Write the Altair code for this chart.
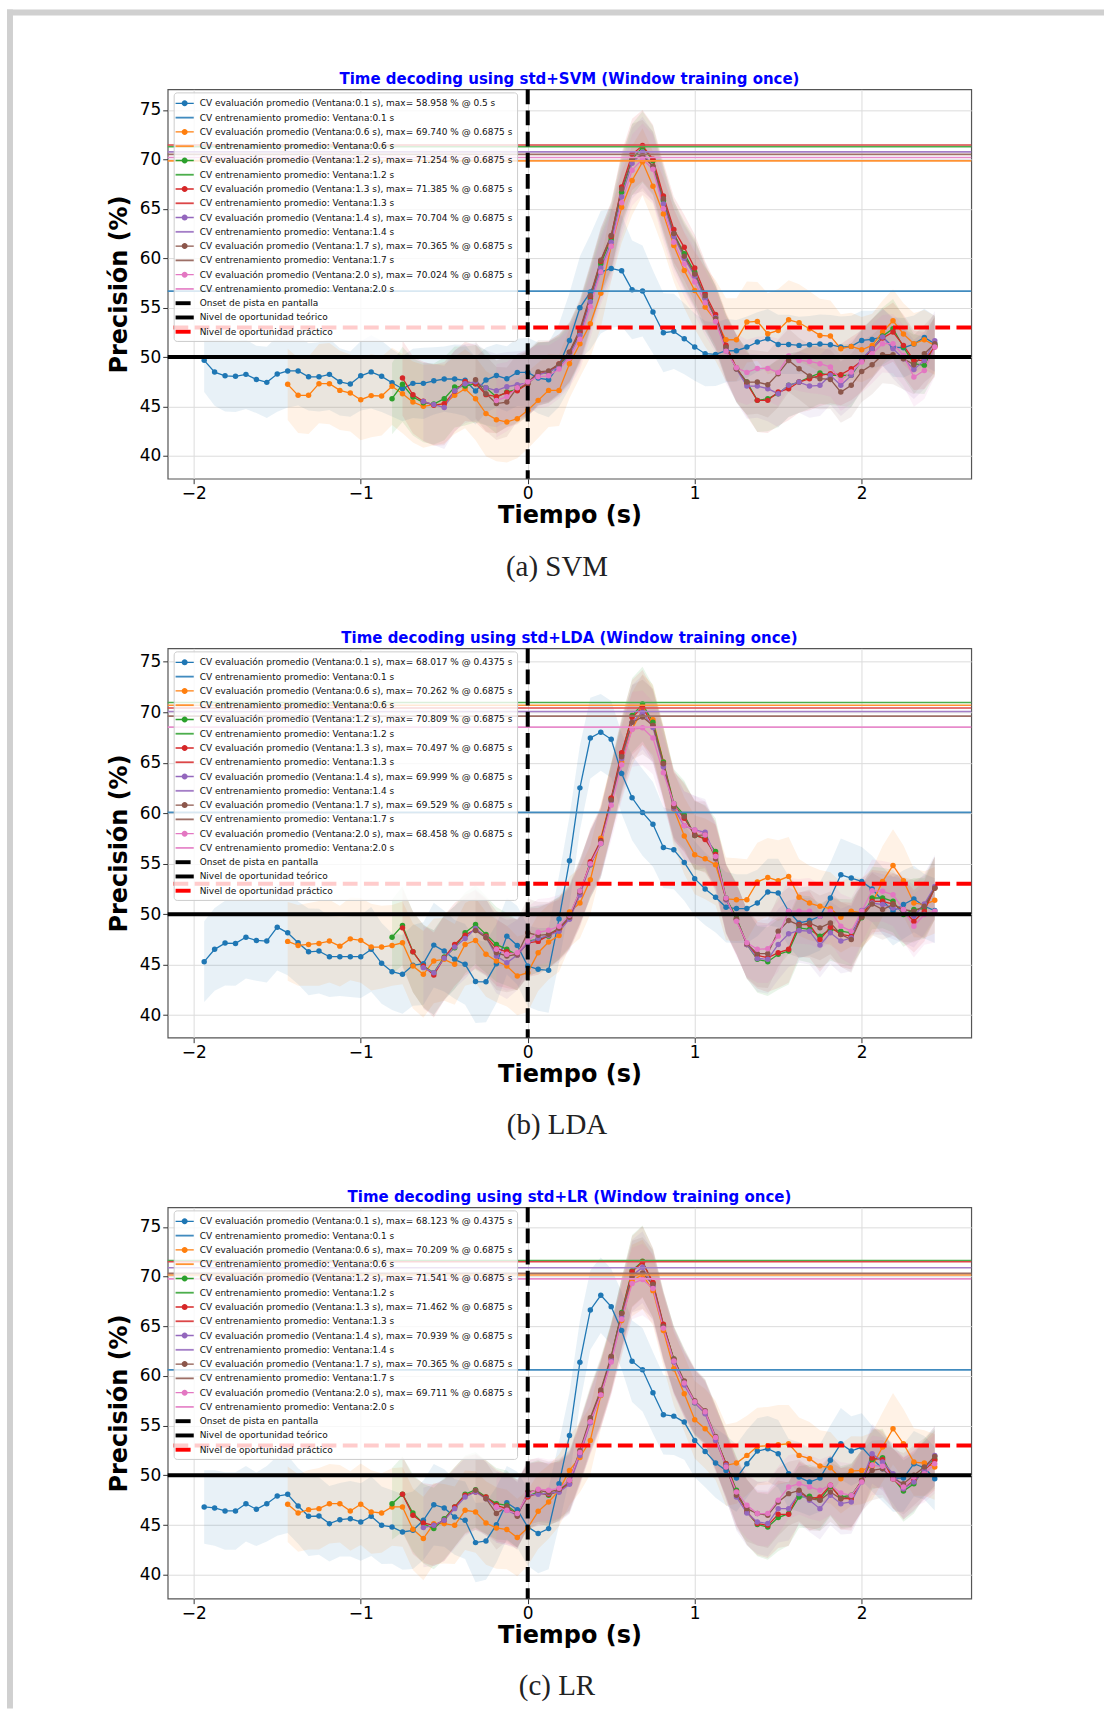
import altair as alt
import pandas as pd

# ---------------- shared grid / styling data ----------------
T0, DT, N = -1.9375, 0.0625, 71
TIME = [round(T0 + DT * i, 4) for i in range(N)]
WINDOWS = ["0.1", "0.6", "1.2", "1.3", "1.4", "1.7", "2.0"]
COLORS = ["#1f77b4", "#ff7f0e", "#2ca02c", "#d62728", "#9467bd", "#8c564b", "#e377c2"]
START = [0, 8, 18, 19, 21, 26, 28]
X_TICKS = [-2, -1, 0, 1, 2]
Y_TICKS = [40, 45, 50, 55, 60, 65, 70, 75]
CHANCE_THEO = 50.0
CHANCE_PRAC = [53.0, 53.0, 53.0]

# ---------------- SVM ----------------
SVM_W01 = [49.67, 48.48, 48.10, 48.05, 48.25, 47.74, 47.44, 48.28, 48.60, 48.60, 48.00, 48.00, 48.25, 47.50, 47.27, 48.10,
           48.50, 48.05, 47.40, 46.80, 47.34, 47.34, 47.60, 47.78, 47.78, 47.65, 46.57, 47.67, 48.13, 47.80, 48.45, 48.45,
           47.88, 47.71, 49.16, 51.68, 54.98, 56.57, 58.59, 58.958, 58.72, 56.80, 56.67, 54.55, 52.46, 52.60, 51.85, 51.01,
           50.34, 50.27, 50.64, 50.64, 51.01, 51.52, 51.85, 51.28, 51.28, 51.18, 51.25, 51.31, 51.25, 51.01, 51.08, 51.68,
           51.78, 52.02, 51.01, 50.94, 51.31, 51.99, 51.35]
SVM_W06 = [47.24, 46.13, 46.13, 47.31, 47.31, 46.63, 46.36, 45.69, 46.10, 46.06, 47.04, 46.30, 45.45, 45.02, 45.19, 45.25,
           46.13, 46.80, 45.79, 44.28, 43.67, 43.43, 43.77, 44.62,
           45.62, 46.63, 46.63, 49.33, 51.35, 53.37, 56.46, 61.28, 65.15, 67.85, 69.74, 67.27, 64.48, 61.28, 58.75, 56.73,
           55.05, 53.70, 51.75, 51.75, 53.54, 53.60, 52.36, 52.69, 53.77, 53.47, 52.86, 52.19, 52.12, 50.84, 51.08, 50.74,
           51.18, 52.53, 53.67, 52.33, 51.35, 51.75, 51.18]
SVM_W12 = [45.79, 47.24, 45.96, 45.39, 45.25, 45.79, 46.97, 47.07, 47.31, 46.90, 45.96, 46.46, 46.73, 47.30,
           48.32, 48.42, 49.16, 50.34, 52.46, 55.89, 59.43, 61.95, 66.67, 69.97, 71.254, 69.86, 65.83, 62.46, 60.44, 58.59,
           55.96, 54.04, 51.01, 48.82, 47.47, 45.62, 45.79, 46.30, 47.14, 47.47, 47.98, 48.38, 48.15, 48.15, 48.15, 49.66,
           50.84, 52.12, 52.86, 51.01, 49.33, 49.16, 51.18]
SVM_W13 = [47.88, 46.19, 45.52, 45.12, 45.29, 46.53, 47.54, 47.31, 46.20, 46.00, 46.40, 46.60, 47.30,
           48.30, 48.50, 49.30, 50.50, 52.60, 56.10, 59.70, 62.20, 67.20, 70.50, 71.385, 70.00, 66.30, 62.90, 61.10, 59.00,
           56.40, 54.30, 51.20, 48.90, 47.30, 45.62, 45.62, 46.46, 46.80, 47.47, 47.81, 48.15, 48.32, 48.22, 48.82, 49.60,
           50.84, 51.92, 52.53, 51.18, 49.66, 49.66, 51.01]
SVM_W14 = [45.50, 45.20, 44.90, 46.60, 47.30, 47.50, 46.90, 46.60, 47.00, 47.20, 47.40,
           48.20, 48.50, 49.00, 50.20, 52.20, 55.60, 59.00, 61.60, 66.20, 69.60, 70.704, 69.20, 65.50, 62.20, 60.00, 58.20,
           55.90, 54.00, 50.90, 48.80, 47.07, 47.07, 46.80, 46.30, 47.14, 47.47, 47.07, 47.14, 48.15, 47.14, 48.15, 49.83,
           50.84, 52.02, 50.84, 49.83, 48.75, 49.66, 51.65]
SVM_W17 = [47.70, 46.30, 45.30, 45.45, 46.90, 47.40,
           48.50, 48.60, 49.30, 50.50, 52.80, 56.20, 59.80, 62.30, 67.00, 70.00, 70.365, 69.30, 66.00, 62.50, 60.20, 58.40,
           56.20, 53.90, 51.00, 48.80, 47.47, 47.47, 47.20, 48.32, 49.66, 48.82, 48.08, 47.81, 47.74, 46.46, 47.14, 48.55,
           49.23, 50.24, 50.24, 49.83, 49.23, 50.34, 51.35]
SVM_W20 = [45.60, 46.00, 46.90, 47.50,
           48.00, 48.10, 48.80, 49.90, 51.80, 55.10, 58.60, 61.20, 65.60, 68.90, 70.024, 69.00, 65.00, 61.60, 59.40, 57.60,
           55.50, 53.60, 50.60, 48.92, 48.45, 48.85, 48.85, 48.45, 50.10, 49.66, 49.56, 49.33, 49.00, 47.64, 48.48, 49.49,
           50.34, 51.35, 51.35, 50.17, 47.98, 48.65, 51.01]
SVM_SD_BLUE = [3.2, 3.4, 3.6, 3.6, 3.5, 3.4, 3.6, 3.8, 3.7, 3.5, 3.4, 3.5, 3.6, 3.4, 3.3, 3.5, 3.7, 3.6, 3.4, 3.3, 3.5, 3.6,
               3.4, 3.3, 3.5, 3.6, 3.4, 3.3, 3.2, 3.3, 3.4, 3.5, 3.6, 3.8, 4.2, 4.8, 5.2, 5.8, 6.2, 6.0, 5.6, 5.0, 4.6, 4.2,
               4.0, 3.8, 3.6, 3.4, 3.3, 3.2, 3.2, 3.1, 3.1, 3.0, 3.0, 3.0, 3.0, 2.9, 2.9, 3.0, 3.0, 3.1, 3.1, 3.0, 2.9, 2.9,
               3.0, 3.0, 2.9, 2.9, 2.8]
SVM_SD_ORANGE = [None] * 8 + [3.6, 3.8, 3.9, 4.0, 4.1, 4.0, 3.9, 4.1, 4.2, 4.0, 3.9, 4.0, 4.1, 4.2, 4.1, 4.0, 3.9, 4.0, 4.2,
                              4.3, 4.2, 4.1, 4.0, 3.9, 3.8, 3.7, 3.6, 3.5, 3.4, 3.4, 3.5, 3.6, 3.6, 3.5, 3.4, 3.5, 3.6, 3.7,
                              3.8, 3.9, 4.0, 4.1, 4.2, 4.2, 4.1, 4.0, 4.1, 4.2, 4.0, 3.9, 3.8, 3.7, 3.6, 3.5, 3.4, 3.3, 3.2,
                              3.2, 3.2, 3.1, 3.1, 3.0, 3.0]
SVM_SD_LONG = [None] * 18 + [3.6, 3.8, 3.9, 4.0, 4.1, 4.2, 4.1, 4.0, 3.9, 3.8, 3.7, 3.5, 3.4, 3.3, 3.2, 3.1, 3.0, 3.0, 3.1,
                             3.2, 3.3, 3.4, 3.5, 3.6, 3.6, 3.5, 3.4, 3.3, 3.3, 3.4, 3.3, 3.2, 3.3, 3.4, 3.3, 3.2, 3.3, 3.4,
                             3.2, 3.1, 3.2, 3.1, 3.0, 3.1, 3.2, 3.1, 3.0, 2.9, 3.0, 3.1, 3.0, 2.9, 3.0]
SVM_TRAIN = [56.67, 69.84, 71.28, 71.45, 70.75, 70.50, 70.18]
SVM_MAX = ["58.958", "69.740", "71.254", "71.385", "70.704", "70.365", "70.024"]
SVM_AT = ["0.5", "0.6875", "0.6875", "0.6875", "0.6875", "0.6875", "0.6875"]

# ---------------- LDA ----------------
LDA_W01 = [45.29, 46.51, 47.13, 47.10, 47.72, 47.39, 47.33, 48.71, 48.15, 47.16, 46.27, 46.34, 45.78, 45.78, 45.78, 45.78,
           46.51, 45.13, 44.30, 44.04, 44.93, 45.09, 46.93, 46.34, 45.52, 45.03, 43.32, 43.29, 45.09, 47.82, 46.90, 44.86,
           44.53, 44.43, 49.53, 55.28, 62.51, 67.45, 68.017, 67.32, 63.93, 61.53, 60.08, 58.90, 56.60, 56.37, 55.12, 53.51,
           52.49, 51.67, 50.68, 50.55, 50.55, 51.10, 52.19, 52.09, 50.29, 49.13, 49.36, 49.79, 51.60, 53.90, 53.57, 53.24,
           52.49, 51.34, 50.29, 50.95, 51.50, 50.78, 50.35]
LDA_W06 = [47.30, 46.90, 47.00, 47.10, 47.33, 46.83, 47.55, 47.40, 46.74, 46.74, 46.90, 47.16, 44.86, 44.04, 45.36, 45.52,
           45.03, 47.00, 47.39, 46.02, 45.36, 44.86, 43.88, 44.20,
           46.18, 47.23, 47.89, 50.22, 51.10, 53.41, 57.52, 61.46, 65.08, 68.36, 70.262, 69.25, 65.08, 60.41, 57.75, 55.88,
           55.48, 54.89, 51.50, 51.43, 51.43, 53.18, 53.64, 53.31, 53.74, 51.67, 51.10, 50.78, 50.55, 49.69, 50.29, 50.13,
           51.10, 53.24, 54.82, 53.31, 51.10, 50.95, 51.37]
LDA_W12 = [47.72, 48.87, 46.27, 44.86, 44.20, 45.75, 46.67, 48.15, 48.97, 47.99, 47.00, 46.51, 45.95, 47.33,
           47.49, 47.82, 48.64, 49.80, 52.26, 54.90, 57.00, 61.40, 65.74, 69.68, 70.809, 69.02, 65.08, 60.97, 59.82, 57.78,
           57.52, 56.20, 51.60, 49.63, 47.00, 45.52, 45.29, 46.02, 46.34, 48.64, 48.48, 47.82, 48.48, 48.31, 48.15, 49.63,
           51.60, 51.60, 51.27, 49.96, 50.45, 50.55, 52.58]
LDA_W13 = [48.64, 46.27, 44.86, 43.97, 45.69, 47.00, 47.92, 48.48, 47.82, 46.60, 46.27, 45.95, 47.16,
           47.30, 47.90, 48.50, 49.60, 52.00, 55.20, 57.30, 61.50, 66.00, 69.50, 70.497, 68.70, 64.91, 60.80, 59.50, 57.90,
           57.40, 55.90, 51.50, 49.50, 47.00, 45.92, 45.68, 46.18, 46.51, 48.97, 48.97, 47.49, 48.71, 47.99, 47.82, 49.79,
           51.27, 51.27, 51.00, 50.35, 49.30, 50.29, 52.58]
LDA_W14 = [44.70, 44.20, 45.62, 46.74, 47.59, 48.58, 47.72, 45.85, 45.19, 45.95, 47.16,
           47.60, 47.90, 48.30, 49.50, 51.90, 54.90, 57.00, 61.20, 65.40, 69.00, 69.999, 68.50, 64.60, 60.50, 58.77, 58.34,
           58.11, 55.71, 51.40, 49.50, 47.00, 45.61, 45.52, 47.00, 48.05, 48.38, 48.31, 46.93, 48.15, 47.33, 47.65, 50.35,
           51.10, 50.95, 50.61, 50.35, 49.79, 51.00, 52.75]
LDA_W17 = [48.38, 47.66, 46.18, 45.85, 46.02, 48.15,
           47.90, 48.00, 48.60, 49.70, 52.20, 55.00, 57.20, 61.30, 65.60, 69.00, 69.529, 68.70, 64.90, 60.64, 59.66, 57.78,
           57.85, 55.48, 51.50, 49.50, 47.06, 46.08, 46.08, 48.31, 49.36, 48.91, 49.13, 48.64, 49.13, 47.99, 47.49, 49.69,
           51.00, 50.45, 50.95, 50.45, 50.29, 50.78, 52.58]
LDA_W20 = [46.51, 46.02, 46.18, 47.33,
           48.20, 48.40, 48.80, 49.90, 52.30, 55.00, 57.00, 60.80, 64.80, 68.30, 68.458, 67.45, 64.00, 60.97, 58.77, 58.34,
           57.85, 55.71, 51.60, 49.30, 47.16, 46.51, 46.57, 47.82, 50.29, 50.29, 50.29, 49.79, 50.29, 48.81, 48.31, 50.29,
           52.32, 52.26, 51.93, 50.45, 48.81, 49.96, 50.29]
LDA_SD_BLUE = [4.0, 4.1, 4.2, 4.2, 4.1, 4.0, 4.1, 4.3, 4.2, 4.1, 4.3, 4.2, 4.0, 3.9, 4.0, 4.1, 4.2, 4.0, 3.8, 3.9, 4.0, 4.1,
               4.2, 4.0, 3.9, 4.0, 4.1, 4.0, 3.9, 3.8, 3.9, 4.0, 4.1, 4.2, 4.3, 4.4, 4.2, 4.0, 3.8, 3.8, 4.0, 4.2, 4.3, 4.2,
               4.0, 3.9, 3.8, 3.7, 3.6, 3.5, 3.5, 3.4, 3.4, 3.3, 3.3, 3.4, 3.5, 3.5, 3.4, 3.4, 3.5, 3.6, 3.5, 3.4, 3.3, 3.3,
               3.4, 3.4, 3.3, 3.2, 3.2]
LDA_SD_ORANGE = [None] * 8 + [3.9, 4.0, 4.1, 4.2, 4.1, 4.0, 4.1, 4.2, 4.3, 4.1, 4.0, 4.1, 4.2, 4.3, 4.2, 4.1, 4.0, 4.1, 4.2,
                              4.2, 4.1, 4.0, 3.9, 3.9, 3.8, 3.7, 3.6, 3.5, 3.5, 3.4, 3.4, 3.5, 3.6, 3.6, 3.5, 3.5, 3.6, 3.7,
                              3.8, 3.9, 4.0, 4.0, 4.1, 4.1, 4.0, 3.9, 3.9, 4.0, 3.9, 3.8, 3.7, 3.6, 3.6, 3.5, 3.5, 3.4, 3.4,
                              3.5, 3.6, 3.5, 3.4, 3.3, 3.3]
LDA_SD_LONG = [None] * 18 + [3.7, 3.9, 4.0, 4.1, 4.2, 4.2, 4.1, 4.0, 3.9, 3.8, 3.7, 3.6, 3.5, 3.4, 3.3, 3.2, 3.1, 3.1, 3.2,
                             3.3, 3.4, 3.5, 3.6, 3.7, 3.7, 3.6, 3.5, 3.4, 3.4, 3.4, 3.3, 3.3, 3.4, 3.5, 3.4, 3.3, 3.4, 3.5,
                             3.3, 3.2, 3.3, 3.2, 3.1, 3.2, 3.3, 3.2, 3.1, 3.0, 3.1, 3.2, 3.1, 3.0, 3.1]
LDA_TRAIN = [60.08, 70.70, 70.97, 70.43, 70.08, 69.62, 68.53]
LDA_MAX = ["68.017", "70.262", "70.809", "70.497", "69.999", "69.529", "68.458"]
LDA_AT = ["0.4375", "0.6875", "0.6875", "0.6875", "0.6875", "0.6875", "0.6875"]

# ---------------- LR ----------------
LR_W01 = [46.82, 46.72, 46.42, 46.42, 47.15, 46.58, 47.15, 47.92, 48.09, 46.92, 45.88, 45.91, 45.14, 45.54, 45.64, 45.31,
          45.88, 44.97, 44.81, 44.30, 44.47, 45.48, 47.05, 46.72, 45.81, 45.48, 43.23, 43.40, 45.04, 47.25, 46.55, 44.81,
          44.14, 44.64, 49.16, 54.02, 61.39, 66.65, 68.123, 66.98, 64.57, 61.49, 60.62, 58.31, 56.10, 55.96, 55.36, 53.52,
          52.41, 51.24, 50.50, 49.73, 51.17, 52.45, 52.68, 52.18, 50.17, 49.83, 49.33, 49.73, 51.51, 53.18, 52.45, 52.85,
          51.68, 50.67, 49.73, 49.73, 51.17, 50.77, 49.66]
LR_W06 = [47.09, 46.21, 46.55, 46.65, 47.15, 47.15, 46.42, 47.09, 46.32, 46.21, 46.82, 46.82, 44.57, 43.64, 45.14, 45.14,
          44.97, 46.48, 46.32, 45.20, 44.71, 44.54, 43.74, 44.71,
          46.38, 47.32, 48.49, 50.50, 51.80, 53.52, 58.04, 61.73, 65.58, 69.60, 70.209, 68.59, 64.57, 60.72, 58.21, 55.60,
          54.69, 53.52, 51.01, 51.24, 52.01, 52.91, 52.98, 53.08, 53.18, 52.01, 51.68, 50.94, 50.77, 49.66, 50.43, 50.50,
          50.91, 52.85, 54.69, 53.18, 51.34, 51.24, 50.84]
LR_W12 = [47.15, 48.09, 46.21, 45.14, 44.64, 45.64, 46.82, 48.09, 48.56, 47.82, 47.15, 46.98, 46.15, 47.90,
          48.32, 47.99, 48.49, 49.33, 52.35, 55.60, 58.40, 61.90, 66.40, 70.60, 71.541, 69.30, 65.10, 61.70, 59.40, 57.30,
          56.40, 53.80, 51.17, 48.49, 46.31, 45.05, 44.81, 45.75, 46.15, 47.82, 47.89, 47.55, 48.89, 47.82, 47.99, 49.43,
          51.58, 51.78, 49.73, 48.42, 49.16, 50.77, 51.68]
LR_W13 = [48.09, 45.98, 45.21, 44.97, 45.48, 46.82, 48.00, 48.33, 47.82, 46.98, 46.65, 46.15, 47.82,
          48.20, 48.10, 48.40, 49.20, 52.20, 55.50, 58.30, 61.80, 66.30, 70.50, 71.462, 69.40, 65.20, 61.60, 59.20, 57.40,
          56.30, 53.70, 51.17, 48.32, 46.31, 45.15, 44.97, 46.08, 46.08, 48.32, 47.65, 47.82, 49.00, 47.65, 47.65, 49.49,
          51.74, 51.58, 49.66, 48.66, 49.49, 50.50, 51.51]
LR_W14 = [44.74, 44.97, 45.48, 46.65, 47.82, 48.33, 47.65, 46.82, 46.48, 45.98, 48.00,
          48.10, 48.20, 48.30, 49.10, 52.00, 55.30, 58.10, 61.60, 66.00, 70.10, 70.939, 69.00, 64.90, 61.40, 59.10, 57.30,
          56.20, 53.50, 51.01, 47.82, 46.21, 45.31, 45.15, 46.65, 46.65, 48.16, 47.49, 46.65, 47.99, 47.15, 47.32, 49.33,
          52.18, 51.34, 50.17, 48.66, 49.33, 50.50, 52.01]
LR_W17 = [48.49, 47.65, 46.15, 46.88, 45.88, 48.33,
          48.50, 48.30, 48.60, 49.50, 52.50, 55.80, 58.60, 62.00, 66.30, 70.00, 70.365, 69.20, 65.00, 61.70, 59.50, 57.50,
          56.50, 53.90, 50.84, 47.99, 46.65, 46.15, 45.98, 47.32, 48.16, 48.49, 47.65, 47.49, 48.32, 47.65, 47.89, 49.49,
          50.50, 50.67, 49.66, 49.16, 50.00, 50.84, 51.91]
LR_W20 = [46.82, 46.48, 46.15, 48.16,
          48.60, 48.50, 48.70, 49.50, 52.30, 55.40, 58.10, 61.40, 65.70, 69.30, 69.711, 68.80, 64.80, 61.50, 59.30, 57.40,
          56.40, 53.80, 50.84, 48.32, 46.98, 46.15, 46.15, 47.49, 48.83, 49.16, 48.83, 48.49, 49.00, 48.22, 47.99, 49.33,
          51.01, 50.91, 49.66, 48.83, 49.83, 50.17, 51.17]
LR_SD_BLUE = [3.7, 3.8, 3.9, 3.9, 3.8, 3.7, 3.8, 4.0, 3.9, 3.8, 4.0, 3.9, 3.8, 3.7, 3.8, 3.9, 4.0, 3.9, 3.7, 3.8, 3.9, 4.0,
              4.1, 3.9, 3.8, 3.9, 4.0, 3.9, 3.8, 3.7, 3.8, 3.9, 4.0, 4.1, 4.2, 4.3, 4.2, 4.0, 3.8, 3.8, 3.9, 4.1, 4.2, 4.1,
              4.0, 3.9, 3.8, 3.7, 3.6, 3.5, 3.5, 3.4, 3.4, 3.3, 3.3, 3.4, 3.5, 3.5, 3.4, 3.4, 3.5, 3.6, 3.5, 3.4, 3.3, 3.3,
              3.4, 3.4, 3.3, 3.2, 3.2]
LR_SD_ORANGE = [None] * 8 + [3.8, 3.9, 4.0, 4.1, 4.0, 3.9, 4.0, 4.1, 4.2, 4.0, 3.9, 4.0, 4.1, 4.2, 4.1, 4.0, 3.9, 4.0, 4.1,
                             4.2, 4.1, 4.0, 3.9, 3.8, 3.8, 3.7, 3.6, 3.5, 3.5, 3.4, 3.4, 3.5, 3.6, 3.6, 3.5, 3.5, 3.6, 3.7,
                             3.8, 3.9, 4.0, 4.0, 4.1, 4.1, 4.0, 3.9, 3.9, 4.0, 3.9, 3.8, 3.7, 3.6, 3.6, 3.5, 3.5, 3.4, 3.4,
                             3.5, 3.6, 3.5, 3.4, 3.3, 3.3]
LR_SD_LONG = [None] * 18 + [3.6, 3.8, 3.9, 4.0, 4.1, 4.1, 4.0, 3.9, 3.8, 3.7, 3.6, 3.5, 3.4, 3.3, 3.2, 3.1, 3.0, 3.0, 3.1,
                            3.2, 3.3, 3.4, 3.5, 3.6, 3.6, 3.5, 3.4, 3.3, 3.3, 3.3, 3.2, 3.2, 3.3, 3.4, 3.3, 3.2, 3.3, 3.4,
                            3.2, 3.1, 3.2, 3.1, 3.0, 3.1, 3.2, 3.1, 3.0, 2.9, 3.0, 3.1, 3.0, 2.9, 3.0]
LR_TRAIN = [60.62, 70.17, 71.62, 71.50, 70.90, 70.33, 69.77]
LR_MAX = ["68.123", "70.209", "71.541", "71.462", "70.939", "70.365", "69.711"]
LR_AT = ["0.4375", "0.6875", "0.6875", "0.6875", "0.6875", "0.6875", "0.6875"]

TITLES = ["Time decoding using std+SVM (Window training once)",
          "Time decoding using std+LDA (Window training once)",
          "Time decoding using std+LR (Window training once)"]
CAPTIONS = ["(a) SVM", "(b) LDA", "(c) LR"]
Y_DOMAINS = [[37.7, 77.07], [37.76, 76.33], [37.59, 76.97]]

# ---------------- styling ----------------
FONT = "DejaVu Sans"
PW = 805
HEIGHTS = [390, 390, 392]
X_DOMAIN = [-2.156, 2.656]
DASH = [14.8, 6.4]

EVAL_PATH = "M-1.3,-0.1L1.3,-0.1L1.3,0.1L-1.3,0.1Z M0.43,0A0.43,0.43 0 1,1 -0.43,0A0.43,0.43 0 1,1 0.43,0Z"
TRAIN_PATH = "M-1.3,-0.13L1.3,-0.13L1.3,0.13L-1.3,0.13Z"
DASH_PATH = "M-1.3,-0.28L0.85,-0.28L0.85,0.28L-1.3,0.28Z"
SOLID_PATH = "M-1.3,-0.28L1.3,-0.28L1.3,0.28L-1.3,0.28Z"


def lighten(hexcol, f=0.25):
    r, g, b = (int(hexcol[i:i + 2], 16) for i in (1, 3, 5))
    r, g, b = (round(c + (255 - c) * f) for c in (r, g, b))
    return "#%02x%02x%02x" % (r, g, b)


def panel(idx, means, sds, train, maxs, ats):
    rows = []
    for k in range(7):
        s = START[k]
        sd = sds[min(k, 2)]
        assert len(means[k]) + s == N, (idx, k, len(means[k]) + s)
        for j, v in enumerate(means[k]):
            i = s + j
            rows.append({"t": TIME[i], "v": v, "lo": v - sd[i], "hi": v + sd[i],
                         "col": COLORS[k], "w": WINDOWS[k], "k": k})
    df = pd.DataFrame(rows)

    xscale = alt.Scale(domain=X_DOMAIN, nice=False, zero=False)
    yscale = alt.Scale(domain=Y_DOMAINS[idx], nice=False, zero=False)
    xaxis = alt.Axis(values=X_TICKS, format="d", title="Tiempo (s)", grid=True, gridColor="#dcdcdc", domain=False,
                     tickColor="#333", tickSize=5, labelFont=FONT, labelFontSize=17, labelColor="#000",
                     labelPadding=2, titleFont=FONT, titleFontSize=24, titleFontWeight="bold",
                     titleColor="#000", titlePadding=2)
    yaxis = alt.Axis(values=Y_TICKS, format="d", title="Precisión (%)", grid=True, gridColor="#dcdcdc", domain=False,
                     tickColor="#333", tickSize=5, labelFont=FONT, labelFontSize=17, labelColor="#000",
                     labelPadding=2, titleFont=FONT, titleFontSize=24, titleFontWeight="bold",
                     titleColor="#000", titlePadding=8)
    X = alt.X("t:Q", scale=xscale, axis=xaxis)
    fillc = alt.Fill("col:N", scale=None, legend=None)
    strokec = alt.Stroke("col:N", scale=None, legend=None)

    bands = alt.Chart(df).mark_area(opacity=0.1).encode(
        x=X, y=alt.Y("lo:Q", scale=yscale, axis=yaxis, stack=None), y2="hi:Q", fill=fillc, detail="w:N")
    lines = alt.Chart(df).mark_line(strokeWidth=1.3).encode(
        x=X, y=alt.Y("v:Q", scale=yscale, axis=yaxis), stroke=strokec, detail="w:N")
    dots = alt.Chart(df).mark_circle(size=30, opacity=1).encode(
        x=X, y=alt.Y("v:Q", scale=yscale, axis=yaxis), fill=fillc, order="k:Q")

    tdf = pd.DataFrame({"v": train, "col": [lighten(c, 0.15) for c in COLORS]})
    trains = alt.Chart(tdf).mark_rule(strokeWidth=1.6).encode(
        y=alt.Y("v:Q", scale=yscale, axis=yaxis), stroke=strokec)
    theo = alt.Chart(pd.DataFrame({"v": [CHANCE_THEO]})).mark_rule(color="black", strokeWidth=4).encode(
        y=alt.Y("v:Q", scale=yscale, axis=yaxis))
    prac = alt.Chart(pd.DataFrame({"v": [CHANCE_PRAC[idx]]})).mark_rule(
        color="#ff0000", strokeWidth=4, strokeDash=DASH).encode(y=alt.Y("v:Q", scale=yscale, axis=yaxis))
    onset = alt.Chart(pd.DataFrame({"t": [0.0]})).mark_rule(
        color="black", strokeWidth=4, strokeDash=DASH).encode(x=X)

    labels, lcols, lshapes = [], [], []
    for k in range(7):
        labels.append("CV evaluación promedio (Ventana:%s s), max= %s %% @ %s s" % (WINDOWS[k], maxs[k], ats[k]))
        lcols.append(COLORS[k])
        lshapes.append(EVAL_PATH)
        labels.append("CV entrenamiento promedio: Ventana:%s s" % WINDOWS[k])
        lcols.append(lighten(COLORS[k], 0.15))
        lshapes.append(TRAIN_PATH)
    labels += ["Onset de pista en pantalla", "Nivel de oportunidad teórico", "Nivel de oportunidad práctico"]
    lcols += ["#000000", "#000000", "#ff0000"]
    lshapes += [DASH_PATH, SOLID_PATH, DASH_PATH]
    # legend carrier points sit outside the x domain and are clipped away
    ldf = pd.DataFrame({"label": labels, "px": [50.0] * len(labels), "py": [60.0] * len(labels)})

    def mk_legend():
        return alt.Legend(title=None, orient="none", legendX=6, legendY=3, padding=4,
                          fillColor="rgba(255,255,255,0.8)", strokeColor="#cccccc", cornerRadius=3,
                          labelFont=FONT, labelFontSize=9, labelColor="#111", labelLimit=700,
                          symbolSize=196, symbolStrokeWidth=0, symbolOpacity=1, rowPadding=2.3, labelOffset=8)

    leg = alt.Chart(ldf).mark_point(filled=True, opacity=1, clip=True).encode(
        x=alt.X("px:Q", scale=xscale, axis=xaxis),
        y=alt.Y("py:Q", scale=yscale, axis=yaxis),
        color=alt.Color("label:N", scale=alt.Scale(domain=labels, range=lcols), legend=mk_legend()),
        shape=alt.Shape("label:N", scale=alt.Scale(domain=labels, range=lshapes), legend=mk_legend()))

    ttl = alt.Chart(pd.DataFrame({"c": [TITLES[idx]]})).mark_text(
        font=FONT, fontSize=15, fontWeight="bold", color="#0000ff", align="center", baseline="middle").encode(
        x=alt.value(PW / 2), y=alt.value(-10), text="c:N")
    cap = alt.Chart(pd.DataFrame({"c": [CAPTIONS[idx]]})).mark_text(
        font="Liberation Serif", fontSize=29, color="#222", align="center", baseline="middle").encode(
        x=alt.value(390), y=alt.value(HEIGHTS[idx] + 88), text="c:N")

    layers = [bands, lines, dots, trains, theo, prac, onset, leg, ttl, cap]
    if idx == 0:
        fdf = pd.DataFrame({"a": [0]})
        top = alt.Chart(fdf).mark_rule(color="#d0d0d0", strokeWidth=6).encode(
            x=alt.value(-161), x2=alt.value(938), y=alt.value(-77))
        left = alt.Chart(fdf).mark_rule(color="#d0d0d0", strokeWidth=6).encode(
            x=alt.value(-158), y=alt.value(-80), y2=alt.value(1622))
        layers += [top, left]

    return alt.layer(*layers).properties(width=PW, height=HEIGHTS[idx])


p1 = panel(0, [SVM_W01, SVM_W06, SVM_W12, SVM_W13, SVM_W14, SVM_W17, SVM_W20],
           [SVM_SD_BLUE, SVM_SD_ORANGE, SVM_SD_LONG], SVM_TRAIN, SVM_MAX, SVM_AT)
p2 = panel(1, [LDA_W01, LDA_W06, LDA_W12, LDA_W13, LDA_W14, LDA_W17, LDA_W20],
           [LDA_SD_BLUE, LDA_SD_ORANGE, LDA_SD_LONG], LDA_TRAIN, LDA_MAX, LDA_AT)
p3 = panel(2, [LR_W01, LR_W06, LR_W12, LR_W13, LR_W14, LR_W17, LR_W20],
           [LR_SD_BLUE, LR_SD_ORANGE, LR_SD_LONG], LR_TRAIN, LR_MAX, LR_AT)

chart = alt.vconcat(p1, p2, p3, spacing=170, bounds="flush").resolve_scale(
    x="independent", y="independent", color="independent", shape="independent"
).resolve_legend(color="independent", shape="independent").properties(
    padding={"left": 3, "top": 4, "right": 0, "bottom": 0}, background="white"
).configure_view(stroke="#555555", strokeWidth=1.2)

chart.save("out.html", embed_options={"renderer": "svg", "actions": False})
